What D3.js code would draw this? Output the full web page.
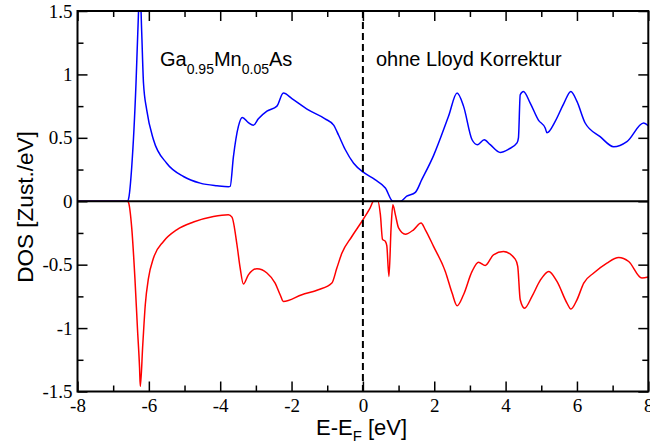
<!DOCTYPE html>
<html>
<head>
<meta charset="utf-8">
<script src="https://cdn.jsdelivr.net/npm/d3@7"></script>
<style>
html,body{margin:0;padding:0;background:#fff;}
svg{display:block;}
</style>
</head>
<body>
<svg id="chart" width="650" height="445"></svg>
<script>
// ---- data ----
const energyUp = [-8,-6.6,-6.56,-6.48,-6.36,-6.31,-6.25,-6.2,-6.15,-6.06,-5.87,-5.5,-5.03,-4.56,-4.09,-3.77,-3.72,-3.63,-3.49,-3.38,-3.21,-3.07,-2.93,-2.69,-2.41,-2.23,-1.99,-1.53,-1.06,-0.82,-0.68,-0.5,-0.26,0.02,0.34,0.63,0.84,1.05,1.23,1.47,1.65,1.98,2.4,2.64,2.82,3.06,3.21,3.4,3.57,3.85,4.08,4.32,4.36,4.41,4.5,4.69,4.92,5.11,5.16,5.39,5.63,5.83,6.0,6.23,6.65,7.03,7.4,7.87,8.0];
const dosUp    = [0,0,0.03,0.27,0.93,1.33,1.7,1.33,0.93,0.72,0.485,0.30,0.195,0.143,0.122,0.114,0.117,0.35,0.59,0.66,0.62,0.60,0.65,0.71,0.75,0.853,0.81,0.72,0.65,0.60,0.52,0.41,0.30,0.227,0.17,0.104,0,0.0,0.04,0.07,0.17,0.36,0.67,0.853,0.75,0.485,0.446,0.485,0.446,0.385,0.41,0.46,0.50,0.84,0.866,0.774,0.64,0.577,0.54,0.63,0.77,0.866,0.787,0.617,0.51,0.43,0.47,0.617,0.595];

const energyDown = [-8,-6.6,-6.57,-6.48,-6.39,-6.32,-6.26,-6.24,-6.17,-6.1,-6.01,-5.87,-5.59,-5.22,-4.75,-4.19,-3.77,-3.67,-3.53,-3.44,-3.35,-3.21,-2.97,-2.69,-2.46,-2.32,-2.23,-1.71,-1.25,-0.87,-0.73,-0.59,-0.31,0.02,0.2,0.3,0.42,0.49,0.55,0.63,0.67,0.73,0.79,0.84,0.91,1.0,1.19,1.42,1.63,1.75,1.98,2.31,2.5,2.64,2.82,3.06,3.24,3.43,3.66,3.94,4.27,4.34,4.41,4.53,4.74,4.97,5.21,5.44,5.72,5.83,6.0,6.19,6.47,6.84,7.17,7.45,7.82,8.0];
const dosDown    = [0,0,-0.01,-0.21,-0.61,-1.0,-1.315,-1.46,-1.13,-0.816,-0.606,-0.448,-0.317,-0.225,-0.164,-0.12,-0.106,-0.125,-0.343,-0.527,-0.653,-0.58,-0.532,-0.566,-0.645,-0.737,-0.79,-0.737,-0.698,-0.645,-0.527,-0.41,-0.278,-0.138,-0.054,0,0,-0.106,-0.30,-0.317,-0.35,-0.593,-0.21,-0.028,-0.106,-0.21,-0.26,-0.225,-0.172,-0.225,-0.356,-0.553,-0.724,-0.824,-0.737,-0.553,-0.48,-0.506,-0.422,-0.396,-0.456,-0.514,-0.777,-0.843,-0.75,-0.624,-0.553,-0.632,-0.803,-0.85,-0.777,-0.645,-0.566,-0.487,-0.443,-0.475,-0.606,-0.598];

const xMajorTicks = [-8,-6,-4,-2,0,2,4,6,8];
const xTickLabels = ["-8","-6","-4","-2","0","2","4","6","8"];
const xMinorTicks = [-7,-5,-3,-1,1,3,5,7];
const yMajorTicks = [-1.5,-1,-0.5,0,0.5,1,1.5];
const yTickLabels = ["-1.5","-1","-0.5","0","0.5","1","1.5"];
const yMinorTicks = [-1.25,-0.75,-0.25,0.25,0.75,1.25];

// ---- layout ----
const svg = d3.select("#chart");
const L = 77.5, R = 648.3, T = 11, B = 391.5;
const x = d3.scaleLinear().domain([-8, 8]).range([L, R]);
const y = d3.scaleLinear().domain([-1.5, 1.5]).range([B, T]);
const SERIF = "Liberation Serif, Times New Roman, serif";
const SANS = "Liberation Sans, Arial, Helvetica, sans-serif";

svg.append("defs").append("clipPath").attr("id","clip")
  .append("rect").attr("x", L).attr("y", T).attr("width", R - L).attr("height", B - T);

const line = d3.line().x(d => x(d[0])).y(d => y(d[1])).curve(d3.curveMonotoneX);

const plot = svg.append("g").attr("clip-path","url(#clip)");
plot.append("path").datum(d3.zip(energyDown, dosDown))
  .attr("d", line).attr("fill","none").attr("stroke","#ff0000").attr("stroke-width",1.5);
plot.append("path").datum(d3.zip(energyUp, dosUp))
  .attr("d", line).attr("fill","none").attr("stroke","#0000ff").attr("stroke-width",1.5);

// zero line and Fermi level
svg.append("line").attr("x1", x(-8)).attr("x2", x(8)).attr("y1", y(0)).attr("y2", y(0))
  .attr("stroke","#000").attr("stroke-width",2);
svg.append("line").attr("x1", x(0)).attr("x2", x(0)).attr("y1", T).attr("y2", B)
  .attr("stroke","#000").attr("stroke-width",2).attr("stroke-dasharray","7,4");

// axes (ticks inward, mirrored on all sides)
const fmtY = d => yTickLabels[yMajorTicks.indexOf(d)];
const fmtX = d => xTickLabels[xMajorTicks.indexOf(d)];
function styleAxis(g){
  g.attr("font-family", SERIF).attr("font-size", 19);
  g.select(".domain").remove();
  g.selectAll(".tick line").attr("stroke","#000").attr("stroke-width",1.5);
  g.selectAll(".tick text").attr("fill","#000")
    .attr("font-family", SERIF).attr("font-size", 19);
}

styleAxis(svg.append("g").attr("transform",`translate(0,${B})`)
  .call(d3.axisBottom(x).tickValues(xMajorTicks).tickSize(-10).tickPadding(7).tickFormat(fmtX)));
styleAxis(svg.append("g").attr("transform",`translate(0,${B})`)
  .call(d3.axisBottom(x).tickValues(xMinorTicks).tickSize(-6).tickFormat("")));
styleAxis(svg.append("g").attr("transform",`translate(0,${T})`)
  .call(d3.axisTop(x).tickValues(xMajorTicks).tickSize(-10).tickFormat("")));
styleAxis(svg.append("g").attr("transform",`translate(0,${T})`)
  .call(d3.axisTop(x).tickValues(xMinorTicks).tickSize(-6).tickFormat("")));

styleAxis(svg.append("g").attr("transform",`translate(${L},0)`)
  .call(d3.axisLeft(y).tickValues(yMajorTicks).tickSize(-10).tickPadding(5).tickFormat(fmtY)));
styleAxis(svg.append("g").attr("transform",`translate(${L},0)`)
  .call(d3.axisLeft(y).tickValues(yMinorTicks).tickSize(-6).tickFormat("")));
styleAxis(svg.append("g").attr("transform",`translate(${R},0)`)
  .call(d3.axisRight(y).tickValues(yMajorTicks).tickSize(-10).tickFormat("")));
styleAxis(svg.append("g").attr("transform",`translate(${R},0)`)
  .call(d3.axisRight(y).tickValues(yMinorTicks).tickSize(-6).tickFormat("")));

// frame
svg.append("rect").attr("x", L).attr("y", T).attr("width", R - L).attr("height", B - T)
  .attr("fill","none").attr("stroke","#000").attr("stroke-width",2);

// titles
const xl = svg.append("text").attr("x", 316).attr("y", 435)
  .attr("font-family", SANS).attr("font-size", 22).attr("fill","#000");
xl.append("tspan").text("E-E");
xl.append("tspan").attr("font-size", 15).attr("dy", 6).text("F");
xl.append("tspan").attr("dy", -6).text(" [eV]");

svg.append("text").attr("transform", "translate(33,207) rotate(-90)")
  .attr("text-anchor","middle").attr("fill","#000")
  .attr("font-family", SANS).attr("font-size", 22.5)
  .text("DOS [Zust./eV]");

// annotations
const ann = svg.append("text").attr("x", 160).attr("y", 66)
  .attr("font-family", SANS).attr("font-size", 20).attr("fill","#000");
ann.append("tspan").text("Ga");
ann.append("tspan").attr("font-size", 14).attr("dy", 8).text("0.95");
ann.append("tspan").attr("dy", -8).text("Mn");
ann.append("tspan").attr("font-size", 14).attr("dy", 8).text("0.05");
ann.append("tspan").attr("dy", -8).text("As");

svg.append("text").attr("x", 376).attr("y", 66)
  .attr("font-family", SANS).attr("font-size", 20).attr("fill","#000")
  .text("ohne Lloyd Korrektur");
</script>
</body>
</html>
